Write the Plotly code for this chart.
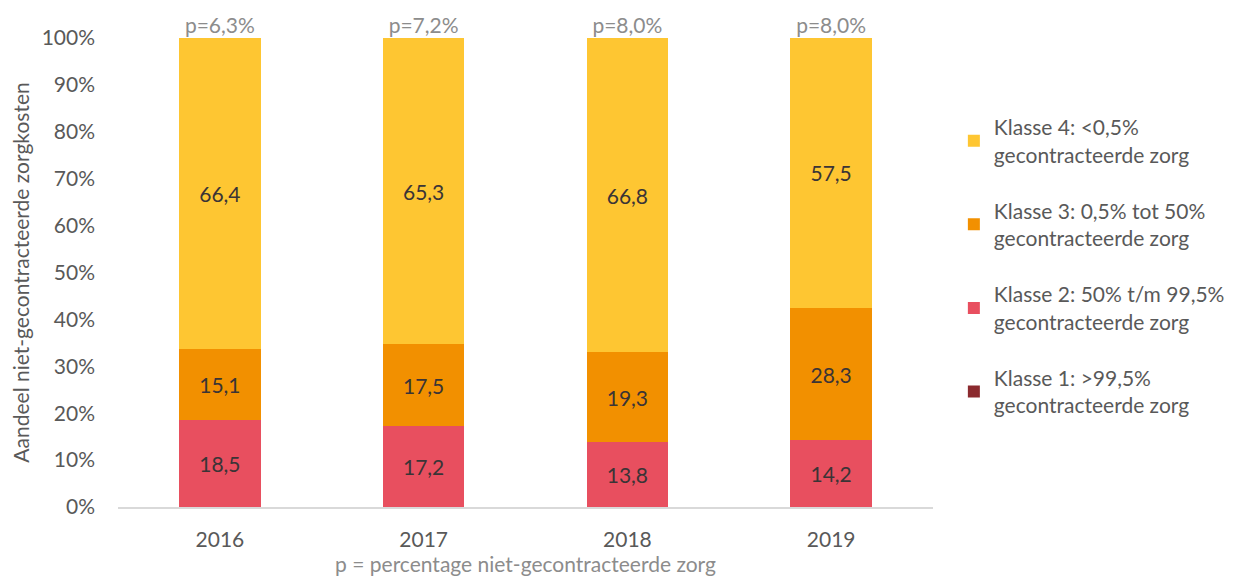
import plotly.graph_objects as go

years = ["2016", "2017", "2018", "2019"]
klasse1 = [0.0, 0.0, 0.0, 0.0]
klasse2 = [18.5, 17.2, 13.8, 14.2]
klasse3 = [15.1, 17.5, 19.3, 28.3]
klasse4 = [66.4, 65.3, 66.8, 57.5]
p_labels = ["p=6,3%", "p=7,2%", "p=8,0%", "p=8,0%"]
p_anchor = [100, 100, 100, 100]

names = [
    "Klasse 1: >99,5%<br>gecontracteerde zorg",
    "Klasse 2: 50% t/m 99,5%<br>gecontracteerde zorg",
    "Klasse 3: 0,5% tot 50%<br>gecontracteerde zorg",
    "Klasse 4: <0,5%<br>gecontracteerde zorg",
]
colors = ["#8B2A2E", "#E84F5F", "#F29000", "#FEC632"]
series = [klasse1, klasse2, klasse3, klasse4]

FONT = "Lato"
FS = 21
fig = go.Figure()
for i, (nm, col, vals) in enumerate(zip(names, colors, series)):
    texts = [("%.1f" % v).replace(".", ",") if v > 0 else "" for v in vals]
    fig.add_trace(go.Bar(
        x=years, y=vals, name=nm, marker=dict(color=col, line=dict(width=0)),
        text=texts, textposition="inside", insidetextanchor="middle",
        textangle=0,
        textfont=dict(family=FONT, size=FS, color="#3A3436"),
        legendgroup="g%d" % i, legendrank=10 - i,
        hoverinfo="skip",
    ))

fig.add_trace(go.Scatter(
    x=years, y=p_anchor, mode="text", text=p_labels, textposition="top center",
    textfont=dict(family=FONT, size=FS, color="#8C8C8C"),
    showlegend=False, hoverinfo="skip", cliponaxis=False,
))

fig.update_layout(
    barmode="stack",
    bargap=0.6,
    width=1234, height=576,
    margin=dict(l=110, r=304, t=30, b=77),
    plot_bgcolor="white", paper_bgcolor="white",
    font=dict(family=FONT, size=FS, color="#595959"),
    showlegend=True,
    legend=dict(traceorder="grouped", x=1.0256, y=0.853, yanchor="top", xanchor="left",
                font=dict(family=FONT, size=FS, color="#595959"),
                tracegroupgap=26, itemwidth=30),
    xaxis=dict(type="category", showline=True, linecolor="#D9D9D9", linewidth=1.5, ticks="",
               ticklabelstandoff=13,
               tickfont=dict(family=FONT, size=FS, color="#595959"),
               title=dict(text="p = percentage niet-gecontracteerde zorg", standoff=5,
                          font=dict(family=FONT, size=FS, color="#8C8C8C"))),
    yaxis=dict(range=[0, 100], tickvals=list(range(0, 101, 10)),
               ticktext=["%d%%" % v for v in range(0, 101, 10)],
               showgrid=False, zeroline=False, showline=False, ticks="",
               ticklabelstandoff=22,
               tickfont=dict(family=FONT, size=FS, color="#595959"),
               title=dict(text="Aandeel niet-gecontracteerde zorgkosten", standoff=8,
                          font=dict(family=FONT, size=FS, color="#595959"))),
    uniformtext=dict(minsize=8, mode="show"),
)

fig.write_html("out.html")
